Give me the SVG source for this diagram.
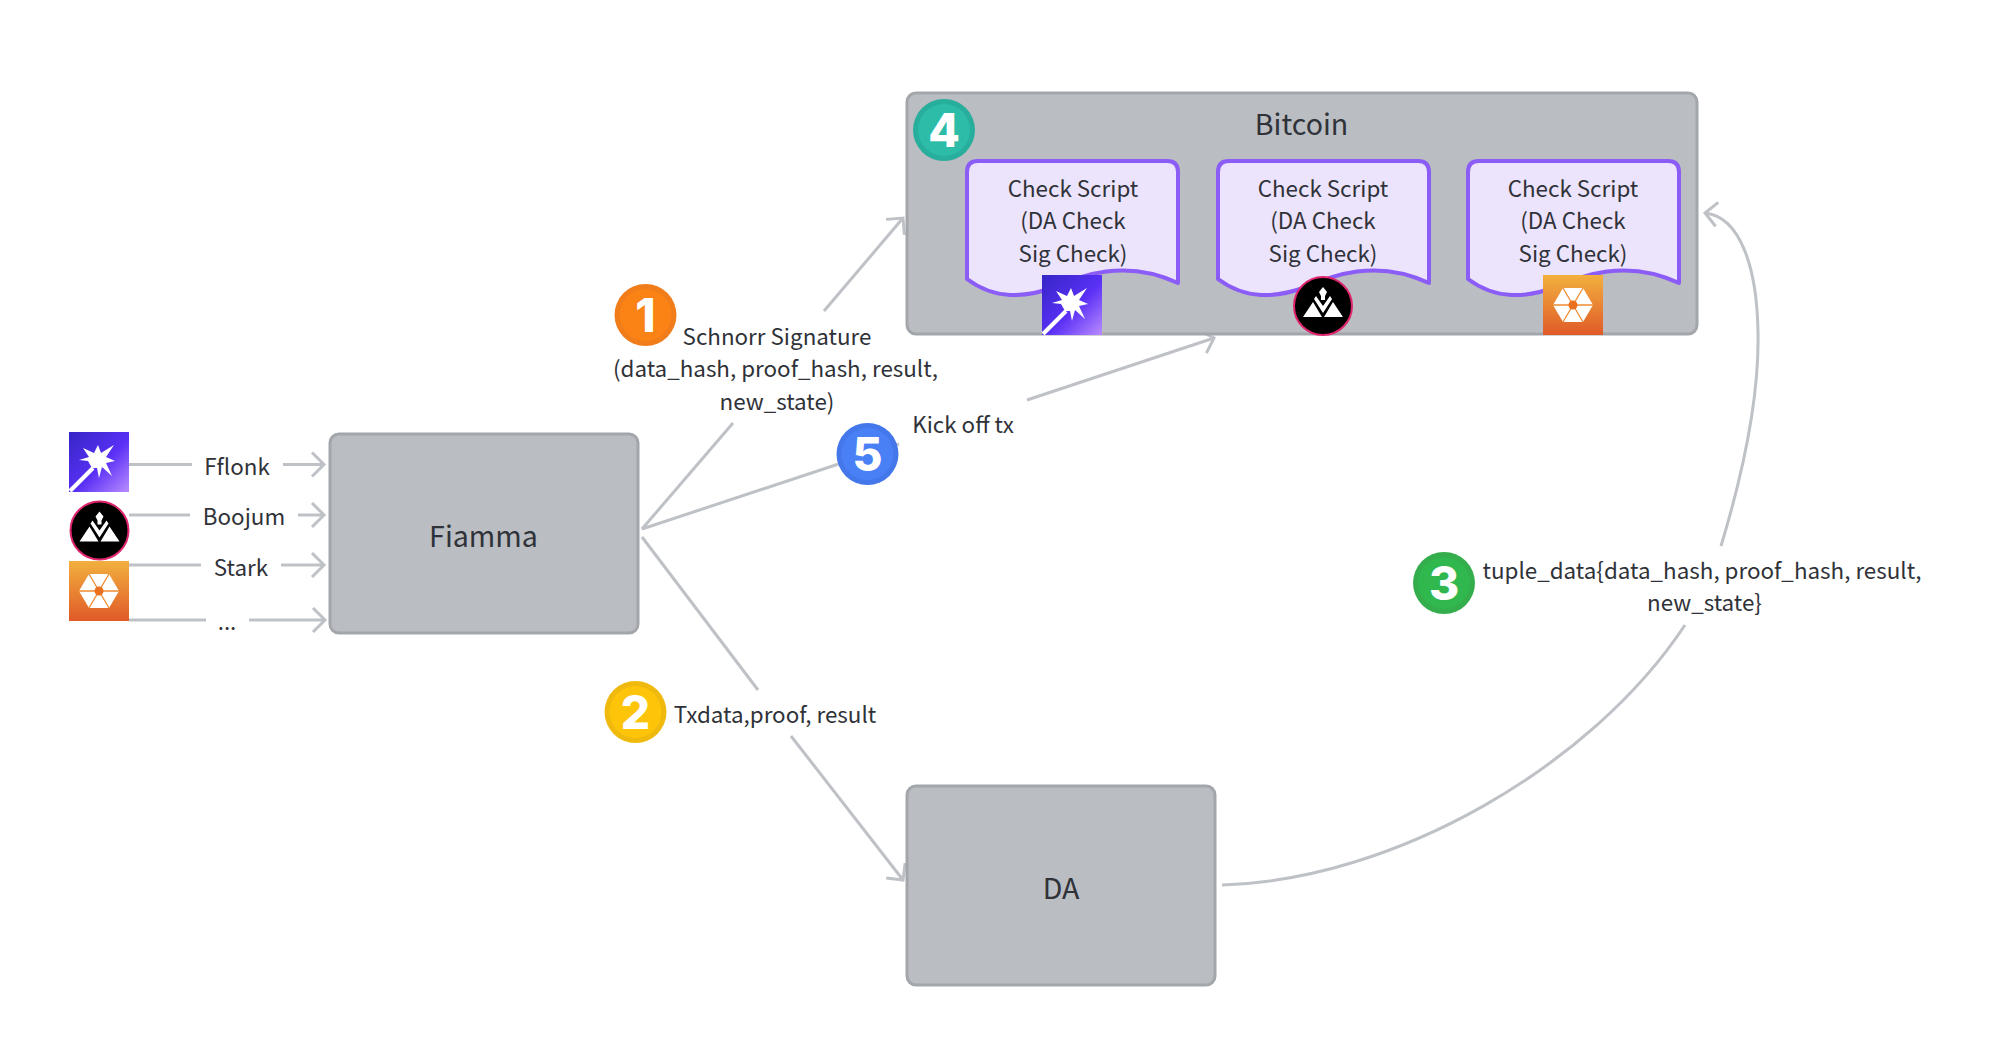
<svg xmlns="http://www.w3.org/2000/svg" width="2000" height="1053" viewBox="0 0 2000 1053">
<style>
text{font-family:"Noto Sans CJK SC","Noto Sans",sans-serif;fill:#2f3238;text-anchor:middle;dominant-baseline:central}
.lbl{font-size:22.4px}
.big{font-size:28.6px}
.box{fill:#babdc2;stroke:#a3a6ab;stroke-width:3}
.doc{fill:#ece3fc;stroke:#8b5cf6;stroke-width:4;stroke-linejoin:round}
.ln{fill:none;stroke:#bec1c6;stroke-width:3}
.num{font-family:Inter,"Liberation Sans",sans-serif;font-size:46px;font-weight:800;fill:#fff}
</style>
<defs>
<marker id="arr" markerUnits="userSpaceOnUse" markerWidth="30" markerHeight="30" refX="22" refY="15" orient="auto">
<path d="M10,3 L22,15 L10,27" fill="none" stroke="#bec1c6" stroke-width="3"/>
</marker>
<linearGradient id="gf" x1="0" y1="0" x2="1" y2="1"><stop offset="0" stop-color="#3526c4"/><stop offset=".55" stop-color="#5a30f6"/><stop offset="1" stop-color="#b98cff"/></linearGradient>
<linearGradient id="gs" x1="0" y1="0" x2="0" y2="1"><stop offset="0" stop-color="#f2b03e"/><stop offset="1" stop-color="#e05a28"/></linearGradient>
<symbol id="fflonk" viewBox="0 0 60 60" width="60" height="60" overflow="visible">
<rect width="60" height="60" fill="url(#gf)"/>
<path d="M14,16 L25,21 L29,13 L32,21 L45,13 L37,25 L46,29 L37,31 L43,44 L33,35 L30,46 L28,36 L23,36 L19,29 L10,28 L20,25Z" fill="#fff"/>
<path d="M1,59 L24,36" stroke="#fff" stroke-width="4" fill="none"/>
</symbol>
<symbol id="boojum" viewBox="0 0 60 60" width="60" height="60" overflow="visible">
<circle cx="30" cy="30" r="29" fill="#000" stroke="#e0246e" stroke-width="2"/>
<path d="M30,11 L34,16 L32,20 L32,24 L28,24 L28,20 L26,16Z M23,20 L30,30 L37,20 L39,23 L30,37 L21,23Z M20,26 L29,41 L10,41Z M40,26 L50,41 L31,41Z" fill="#fff"/>
</symbol>
<symbol id="stark" viewBox="0 0 60 60" width="60" height="60" overflow="visible">
<rect width="60" height="60" fill="url(#gs)"/>
<path d="M20,13 H40 L50,30 L40,47 H20 L10,30Z" fill="#fff"/>
<path d="M10,30 H50 M20,13 L40,47 M40,13 L20,47" stroke="#ee8a30" stroke-width="1.3" fill="none"/>
<circle cx="30" cy="30" r="4.5" fill="#e8701f"/>
</symbol>
</defs>
<rect width="2000" height="1053" fill="#fff"/>
<g id="connectors">
<path class="ln" d="M129,464.5 H192"/>
<path class="ln" d="M283,464.5 H324" marker-end="url(#arr)"/>
<path class="ln" d="M129,515 H190"/>
<path class="ln" d="M298,515 H324" marker-end="url(#arr)"/>
<path class="ln" d="M129,565 H201"/>
<path class="ln" d="M281,565 H324" marker-end="url(#arr)"/>
<path class="ln" d="M129,620 H206"/>
<path class="ln" d="M249,620 H325" marker-end="url(#arr)"/>
<path class="ln" d="M642,529 L733,423"/>
<path class="ln" d="M824,311 L903,218" marker-end="url(#arr)"/>
<path class="ln" d="M642,529 L899,444"/>
<path class="ln" d="M1027,400 L1214,338" marker-end="url(#arr)"/>
<path class="ln" d="M642,537 L758,690"/>
<path class="ln" d="M791,736 L903,880" marker-end="url(#arr)"/>
<path class="ln" d="M1222,885 C1394,880 1591,767 1685,625"/>
<path class="ln" d="M1721,546 C1751,447 1759,379 1758,332 C1757,269 1741,217 1705,213" marker-end="url(#arr)"/>
</g>
<g id="fiamma"><rect class="box" x="330" y="434" width="308" height="199" rx="9"/><text class="big" x="483.5" y="534.5">Fiamma</text></g>
<g id="da"><rect class="box" x="907" y="786" width="308" height="199" rx="9"/><text class="big" x="1061" y="886">DA</text></g>
<g id="bitcoin"><rect class="box" x="907" y="93" width="790" height="241" rx="9"/><text class="big" x="1301.500" y="122.500">Bitcoin</text></g>
<g id="script1"><path class="doc" d="M967,172 Q967,161 978,161 H1167 Q1178,161 1178,172 V283 C1125,258 1080,276 1055,287 C1025,298 995,300 967,279Z"/><text class="lbl" x="1073" y="187">Check Script</text><text class="lbl" x="1073" y="219">(DA Check</text><text class="lbl" x="1073" y="252">Sig Check)</text></g>
<g id="script2"><path class="doc" d="M1218,172 Q1218,161 1229,161 H1418 Q1429,161 1429,172 V283 C1376,258 1331,276 1306,287 C1276,298 1246,300 1218,279Z"/><text class="lbl" x="1323" y="187">Check Script</text><text class="lbl" x="1323" y="219">(DA Check</text><text class="lbl" x="1323" y="252">Sig Check)</text></g>
<g id="script3"><path class="doc" d="M1468,172 Q1468,161 1479,161 H1668 Q1679,161 1679,172 V283 C1626,258 1581,276 1556,287 C1526,298 1496,300 1468,279Z"/><text class="lbl" x="1573" y="187">Check Script</text><text class="lbl" x="1573" y="219">(DA Check</text><text class="lbl" x="1573" y="252">Sig Check)</text></g>
<g id="icons-left">
<use href="#fflonk" x="69" y="432"/>
<use href="#boojum" x="69.500" y="500.500"/>
<use href="#stark" x="69" y="561"/>
</g>
<g id="icons-script">
<use href="#fflonk" x="1042" y="275"/>
<use href="#boojum" x="1293" y="276"/>
<use href="#stark" x="1543" y="275"/>
</g>
<g id="labels">
<text class="lbl" x="237" y="465">Fflonk</text>
<text class="lbl" x="244" y="515">Boojum</text>
<text class="lbl" x="241" y="566">Stark</text>
<text class="lbl" x="227" y="620">...</text>
<text class="lbl" x="777" y="335">Schnorr Signature</text>
<text class="lbl" x="775.500" y="367">(data_hash, proof_hash, result,</text>
<text class="lbl" x="777" y="400">new_state)</text>
<text class="lbl" x="963" y="423">Kick off tx</text>
<text class="lbl" x="775" y="712.500">Txdata,proof, result</text>
<text class="lbl" x="1702" y="568.500">tuple_data{data_hash, proof_hash, result,</text>
<text class="lbl" x="1704.500" y="601">new_state}</text>
</g>
<g id="badge1"><circle cx="645.500" cy="315" r="31" fill="#f07c1a"/><circle cx="645.500" cy="315" r="26" fill="#fb8316"/><text class="num" x="645.500" y="315">1</text></g>
<g id="badge2"><circle cx="635.500" cy="712" r="31" fill="#efb90e"/><circle cx="635.500" cy="712" r="26" fill="#fdc40a"/><text class="num" x="635.500" y="712">2</text></g>
<g id="badge3"><circle cx="1444" cy="583" r="31" fill="#34ad4c"/><circle cx="1444" cy="583" r="26" fill="#30b84e"/><text class="num" x="1444" y="583">3</text></g>
<g id="badge4"><circle cx="944" cy="130" r="31" fill="#27ae9c"/><circle cx="944" cy="130" r="26" fill="#2cbca8"/><text class="num" x="944" y="130">4</text></g>
<g id="badge5"><circle cx="867.500" cy="454" r="31" fill="#4477ea"/><circle cx="867.500" cy="454" r="26" fill="#4a80f5"/><text class="num" x="867.500" y="454">5</text></g>
</svg>
